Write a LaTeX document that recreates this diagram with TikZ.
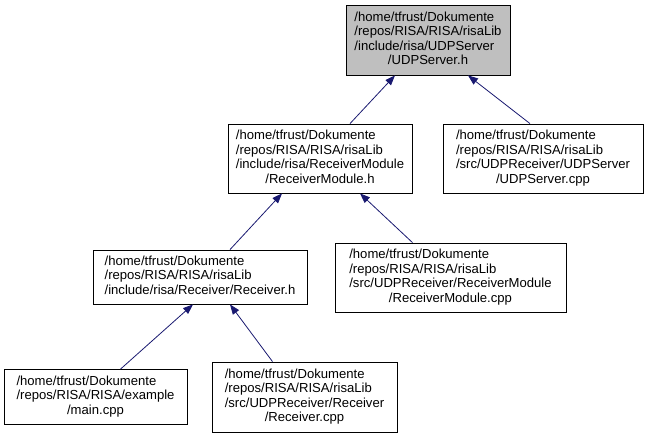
\documentclass[tikz,border=0pt]{standalone}
\usepackage{fontspec}
\setmainfont{Liberation Sans}
\usetikzlibrary{arrows.meta}
\definecolor{edgeblue}{HTML}{191970}
\definecolor{boxgray}{HTML}{BFBFBF}
\newcommand{\flines}[2]{\begin{tabular}{@{}l@{}}#1\\\multicolumn{1}{@{}c@{}}{#2}\end{tabular}}

\begin{document}
\begin{tikzpicture}[x=1pt,y=-1pt,
  file/.style={draw=black,line width=0.8pt,fill=white,inner sep=0pt,font=\fontsize{13.1}{14.5}\selectfont},
  edge/.style={draw=edgeblue,line width=0.8pt,-{Triangle[length=10pt,width=7.5pt]}}]
\useasboundingbox (0,0) rectangle (649,437);
\node[file,fill=boxgray,minimum width=164pt,minimum height=70pt] (top) at (428,40) {\flines{/home/tfrust/Dokumente\\/repos/RISA/RISA/risaLib\\/include/risa/UDPServer}{/UDPServer.h}};
\node[file,minimum width=184pt,minimum height=69pt] (rmh) at (320,158.5) {\flines{/home/tfrust/Dokumente\\/repos/RISA/RISA/risaLib\\/include/risa/ReceiverModule}{/ReceiverModule.h}};
\node[file,minimum width=200pt,minimum height=69pt] (udpcpp) at (543,158.5) {\flines{/home/tfrust/Dokumente\\/repos/RISA/RISA/risaLib\\/src/UDPReceiver/UDPServer}{/UDPServer.cpp}};
\node[file,minimum width=214pt,minimum height=54pt] (rh) at (200,277) {\flines{/home/tfrust/Dokumente\\/repos/RISA/RISA/risaLib}{/include/risa/Receiver/Receiver.h}};
\node[file,minimum width=231pt,minimum height=69pt] (rmcpp) at (450.5,277.5) {\flines{/home/tfrust/Dokumente\\/repos/RISA/RISA/risaLib\\/src/UDPReceiver/ReceiverModule}{/ReceiverModule.cpp}};
\node[file,minimum width=183pt,minimum height=55pt] (main) at (95.5,397) {\flines{/home/tfrust/Dokumente\\/repos/RISA/RISA/example}{/main.cpp}};
\node[file,minimum width=185pt,minimum height=70pt] (rcpp) at (304.5,397) {\flines{/home/tfrust/Dokumente\\/repos/RISA/RISA/risaLib\\/src/UDPReceiver/Receiver}{/Receiver.cpp}};
\draw[edge] ([xshift=30pt]rmh.north) -- ([xshift=-33pt]top.south);
\draw[edge] ([xshift=-13pt]udpcpp.north) -- ([xshift=40pt]top.south);
\draw[edge] ([xshift=30pt]rh.north) -- ([xshift=-38pt]rmh.south);
\draw[edge] ([xshift=-38pt]rmcpp.north) -- ([xshift=40pt]rmh.south);
\draw[edge] ([xshift=25pt]main.north) -- ([xshift=-7pt]rh.south);
\draw[edge] ([xshift=-32pt]rcpp.north) -- ([xshift=30pt]rh.south);
\end{tikzpicture}
\end{document}
